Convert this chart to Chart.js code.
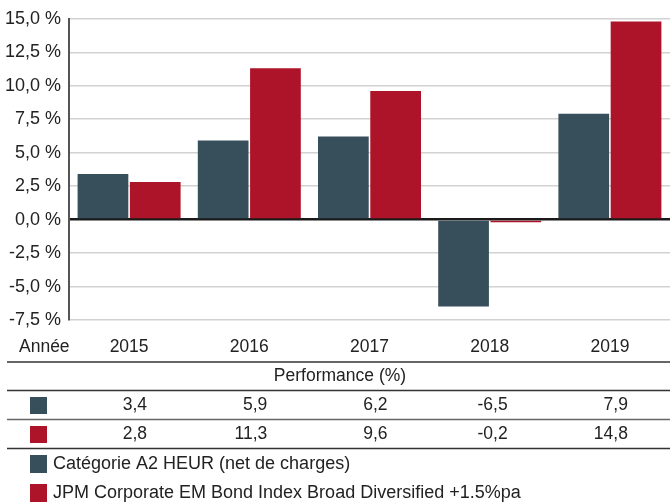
<!DOCTYPE html>
<html>
<head>
<meta charset="utf-8">
<script src="https://cdn.jsdelivr.net/npm/chart.js@4/dist/chart.umd.min.js"></script>
<style>
html,body{margin:0;padding:0;background:#fff;}
#wrap{width:670px;height:504px;position:relative;}
</style>
</head>
<body>
<div id="wrap"><canvas id="c" width="670" height="504"></canvas></div>
<script>
const years = ['2015', '2016', '2017', '2018', '2019'];
const fundValues = [3.4, 5.9, 6.2, -6.5, 7.9];
const indexValues = [2.8, 11.3, 9.6, -0.2, 14.8];
const fundLabel = 'Catégorie A2 HEUR (net de charges)';
const indexLabel = 'JPM Corporate EM Bond Index Broad Diversified +1.5%pa';
const yearHeader = 'Année';
const tableHeader = 'Performance (%)';
const yMin = -7.5, yMax = 15, yStep = 2.5;

const DARK = '#374e5b';
const RED = '#ae1429';
const FONT = '"Liberation Sans", Arial, Helvetica, sans-serif';
const TXT = '#222';

function fmt(v, d) { return v.toFixed(d).replace('.', ','); }

const tablePlugin = {
  id: 'tablePlugin',
  afterDraw(chart) {
    const ctx = chart.ctx;
    const x = chart.scales.x;
    const W = chart.width;
    ctx.save();
    ctx.font = '17.5px ' + FONT;
    ctx.fillStyle = TXT;
    ctx.textBaseline = 'middle';
    ctx.textAlign = 'left';
    ctx.fillText(yearHeader, 19, 347);
    ctx.textAlign = 'center';
    years.forEach((y, i) => ctx.fillText(y, x.getPixelForValue(i), 347));
    const line = (yy, col, w) => {
      ctx.beginPath();
      ctx.strokeStyle = col; ctx.lineWidth = w;
      ctx.moveTo(7, yy); ctx.lineTo(W, yy); ctx.stroke();
    };
    line(362, '#333', 1.5);
    ctx.fillText(tableHeader, 340, 376);
    line(390.5, '#333', 1.5);
    const rows = [[fundValues, DARK, 405], [indexValues, RED, 434]];
    rows.forEach(([vals, col, yy]) => {
      ctx.fillStyle = col;
      ctx.fillRect(30, yy - 8, 17, 17);
      ctx.fillStyle = TXT;
      ctx.textAlign = 'right';
      vals.forEach((v, i) => ctx.fillText(fmt(v, 1), x.getPixelForValue(i) + 18, yy));
    });
    line(419.5, '#666', 1.5);
    line(448.5, '#333', 1.5);
    ctx.font = '18px ' + FONT;
    const leg = [[fundLabel, DARK, 464], [indexLabel, RED, 493]];
    ctx.textAlign = 'left';
    leg.forEach(([t, col, yy]) => {
      ctx.fillStyle = col;
      ctx.fillRect(30, yy - 9, 17, 18);
      ctx.fillStyle = TXT;
      ctx.fillText(t, 53, yy);
    });
    ctx.restore();
  }
};

new Chart(document.getElementById('c'), {
  type: 'bar',
  data: {
    labels: years,
    datasets: [
      { label: fundLabel, data: fundValues, backgroundColor: DARK, borderWidth: 0,
        categoryPercentage: 0.87, barPercentage: 0.97 },
      { label: indexLabel, data: indexValues, backgroundColor: RED, borderWidth: 0,
        categoryPercentage: 0.87, barPercentage: 0.97 }
    ]
  },
  options: {
    responsive: false,
    animation: false,
    events: [],
    layout: { padding: { top: 9, bottom: 184, right: 0, left: 0 } },
    plugins: { legend: { display: false }, tooltip: { enabled: false } },
    scales: {
      x: { display: false },
      y: {
        min: yMin, max: yMax,
        afterFit: s => { s.width = 69; },
        ticks: {
          stepSize: yStep,
          padding: 8,
          color: TXT,
          font: { family: FONT, size: 18 },
          callback: v => fmt(v, 1) + ' %'
        },
        border: { display: true, color: '#555', width: 2 },
        grid: {
          drawTicks: false,
          color: c => c.tick.value === 0 ? '#1a1a1a' : '#d2d2d2',
          lineWidth: c => c.tick.value === 0 ? 2.5 : 1.5
        }
      }
    }
  },
  plugins: [tablePlugin]
});
</script>
</body>
</html>
